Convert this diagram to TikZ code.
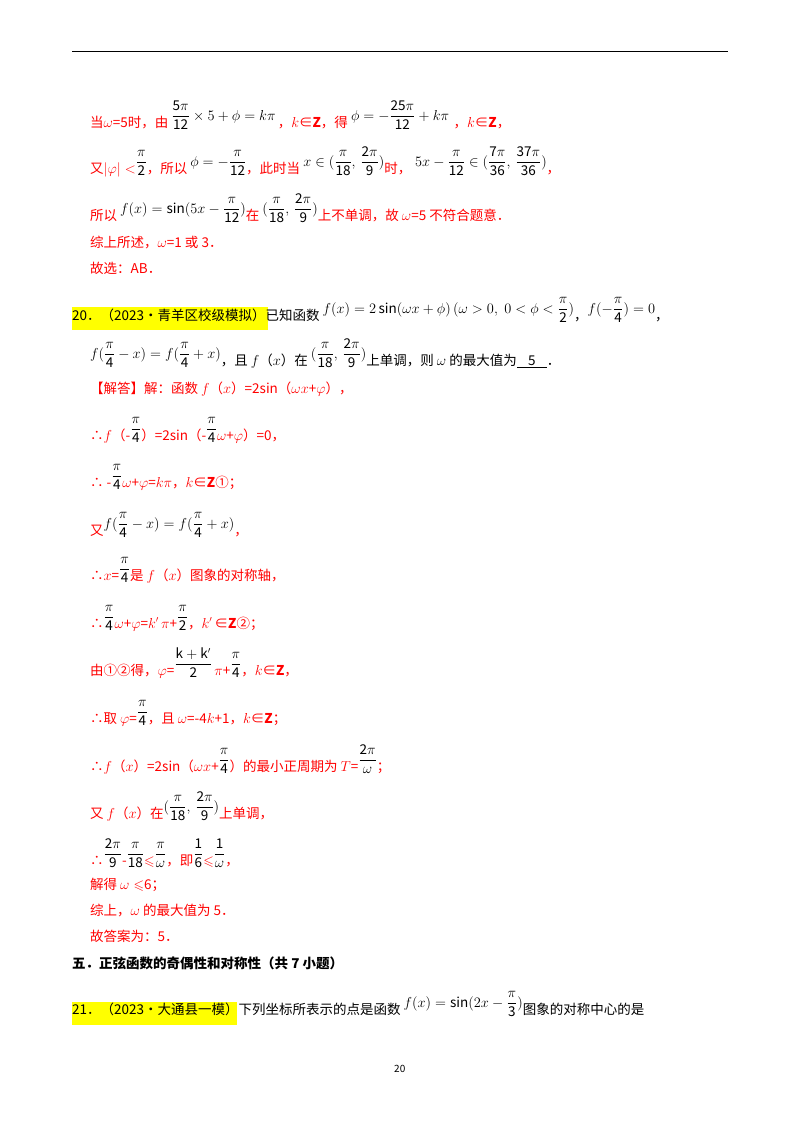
\documentclass[tikz,border=0pt]{standalone}
\usepackage{amssymb}
\usepackage{fontspec}
\setmainfont{Noto Sans CJK SC}
\usepackage{xcolor}
\definecolor{hl}{RGB}{255,255,0}
\newcommand\M[1]{{\color{black}\raisebox{7pt}{$\displaystyle #1$}}}
\newcommand\Fr[2]{\frac{\mathrm{#1}}{\mathrm{#2}}}
\begin{document}
\begin{tikzpicture}[x=1pt,y=-1pt,
  ln/.style={anchor=base west,inner sep=0pt,font=\fontsize{13.5}{16}\selectfont},
  rd/.style={ln,text=red},
  bk/.style={ln,text=black}]
\useasboundingbox (0,0) rectangle (800,1132);
\draw[line width=1pt] (72,52) -- (728,52);
\node[rd] (l1) at (90,127) {当$\omega$=5时，由 \M{\Fr{5\pi}{12}\times 5+\phi=k\pi}\,，$k$∈\textbf{Z}，得 \M{\phi=-\Fr{25\pi}{12}+k\pi}\,\,，$k$∈\textbf{Z}，};
\node[rd] (l2) at (90,173) {又$|\varphi|<$\M{\Fr{\pi}{2}}，所以 \M{\phi=-\Fr{\pi}{12}}，此时当 \M{x\in(\Fr{\pi}{18},\,\Fr{2\pi}{9})}时，\;\M{5x-\Fr{\pi}{12}\in(\Fr{7\pi}{36},\,\Fr{37\pi}{36})}，};
\node[rd] (l3) at (90,220) {所以 \M{f(x)=\sin(5x-\Fr{\pi}{12})}在 \M{(\Fr{\pi}{18},\,\Fr{2\pi}{9})}上不单调，故 $\omega$=5 不符合题意．};
\node[rd] (l4) at (90,247) {综上所述，$\omega$=1 或 3．};
\node[rd] (l5) at (90,273) {故选：\textit{AB}．};
\fill[hl] (72,307) rectangle (268,330);
\node[bk] (q20) at (72,320) {20．（2023•青羊区校级模拟）已知函数 \M{f(x)=2\sin(\omega x+\phi)\,(\omega>0,\;0<\phi<\Fr{\pi}{2})}，\M{f(-\Fr{\pi}{4})=0}，};
\node[bk] (q20b) at (90,365) {\M{f(\Fr{\pi}{4}-x)=f(\Fr{\pi}{4}+x)}，且 $f$（$x$）在 \M{(\Fr{\pi}{18},\,\Fr{2\pi}{9})}上单调，则 $\omega$ 的最大值为\underline{\;\;\;5\;\;\;}．};
\node[rd] (a1) at (90,393) {【解答】解：函数 $f$（$x$）=2sin（$\omega x$+$\varphi$），};
\node[rd] (a2) at (90,440) {∴$f$（-\M{\Fr{\pi}{4}}）=2sin（-\M{\Fr{\pi}{4}}$\omega$+$\varphi$）=0，};
\node[rd] (a3) at (90,487) {∴ -\M{\Fr{\pi}{4}}$\omega$+$\varphi$=$k\pi$，$k$∈\textbf{Z}①；};
\node[rd] (a4) at (90,535) {又\M{f(\Fr{\pi}{4}-x)=f(\Fr{\pi}{4}+x)}，};
\node[rd] (a5) at (90,580) {∴$x$=\M{\Fr{\pi}{4}}是 $f$（$x$）图象的对称轴，};
\node[rd] (a6) at (90,628) {∴\M{\Fr{\pi}{4}}$\omega$+$\varphi$=$k'$\,$\pi$+\M{\Fr{\pi}{2}}，$k'$\,∈\textbf{Z}②；};
\node[rd] (a7) at (90,675) {由①②得，$\varphi$=\M{\Fr{k+k'}{2}}\,$\pi$+\M{\Fr{\pi}{4}}，$k$∈\textbf{Z}，};
\node[rd] (a8) at (90,723) {∴取 $\varphi$=\M{\Fr{\pi}{4}}，且 $\omega$=-4$k$+1，$k$∈\textbf{Z}；};
\node[rd] (a9) at (90,771) {∴$f$（$x$）=2sin（$\omega x$+\M{\Fr{\pi}{4}}）的最小正周期为 $T$=\M{\Fr{2\pi}{\omega}}；};
\node[rd] (a10) at (90,818) {又 $f$（$x$）在\M{(\Fr{\pi}{18},\,\Fr{2\pi}{9})}上单调，};
\node[rd] (a11) at (90,865) {∴\M{\Fr{2\pi}{9}}-\M{\Fr{\pi}{18}}$\leqslant$\M{\Fr{\pi}{\omega}}，即\M{\Fr{1}{6}}$\leqslant$\M{\Fr{1}{\omega}}，};
\node[rd] (a12) at (90,889) {解得 $\omega\leqslant$6；};
\node[rd] (a13) at (90,915) {综上，$\omega$ 的最大值为 5．};
\node[rd] (a14) at (90,941) {故答案为：5．};
\node[bk,font=\fontsize{13.5}{16}\selectfont\bfseries] (s5) at (72,968) {五．正弦函数的奇偶性和对称性（共 7 小题）};
\fill[hl] (72,1002) rectangle (237,1025);
\node[bk] (q21) at (72,1014) {21．（2023•大通县一模）下列坐标所表示的点是函数 \M{f(x)=\sin(2x-\Fr{\pi}{3})}图象的对称中心的是};
\node[bk,font=\fontsize{10}{12}\selectfont] (pg) at (394,1072) {20};
\end{tikzpicture}
\end{document}
